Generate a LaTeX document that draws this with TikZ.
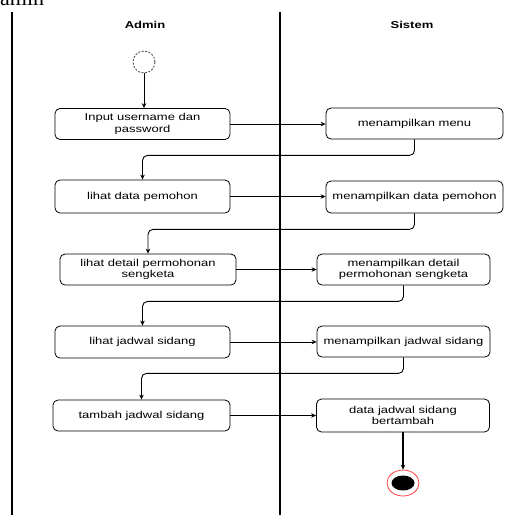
\documentclass[tikz,border=0pt]{standalone}
\usepackage{fontspec}
\setmainfont{Liberation Sans}[FakeStretch=1.3]
\newfontfamily\capserif{Liberation Serif}
\usetikzlibrary{arrows.meta,shapes.geometric,calc}
\begin{document}
\begin{tikzpicture}[x=1pt,y=-1pt,
  act/.style={draw=black,line width=0.8pt,rounded corners=5pt,minimum width=175pt,minimum height=31pt,
    align=center,inner sep=2pt,font=\fontsize{10}{11.5}\selectfont},
  flow/.style={draw=black,line width=0.9pt,rounded corners=5pt,-{Stealth[length=5pt,width=4.5pt]}},
  lane/.style={draw=black},
  hdr/.style={font=\bfseries\fontsize{10}{12}\selectfont}]
\useasboundingbox (0,0) rectangle (532,515);
% cropped caption fragment
\node[anchor=base west,inner sep=0pt,font=\capserif\fontsize{22}{22}\selectfont] (cap) at (0,5) {amin};
% swimlanes
\draw[lane,line width=2pt] (12,12) coordinate (l1) -- (12,515) coordinate (l2);
\draw[lane,line width=1.3pt] (280,12) coordinate (m1) -- (280,515) coordinate (m2);
\node[hdr] (hadmin) at (145,25) {Admin};
\node[hdr] (hsistem) at (412,25) {Sistem};
% start node
\node[circle,draw=black!75,dashed,dash pattern=on 2pt off 1.5pt,line width=0.8pt,minimum size=22pt,inner sep=0pt] (start) at (144,62) {};
% Admin actions
\node[act] (a1) at (142.5,124) {Input username dan\\password};
\node[act,minimum height=33pt] (a2) at (142.5,196.5) {lihat data pemohon};
\node[act,minimum width=176pt] (a3) at (148,269.5) {lihat detail permohonan\\sengketa};
\node[act,minimum height=32pt] (a4) at (142.5,342) {lihat jadwal sidang};
\node[act,minimum width=177pt] (a5) at (141.5,415.5) {tambah jadwal sidang};
% Sistem actions
\node[act,minimum width=177pt] (s1) at (414.5,123.5) {menampilkan menu};
\node[act,minimum width=177pt,minimum height=32pt] (s2) at (414.5,197) {menampilkan data pemohon};
\node[act,minimum width=173pt] (s3) at (403.5,269.5) {menampilkan detail\\permohonan sengketa};
\node[act,minimum width=173pt] (s4) at (403.5,341.5) {menampilkan jadwal sidang};
\node[act,minimum width=173pt,minimum height=33pt] (s5) at (403,415.5) {data jadwal sidang\\bertambah};
% end node
\node[ellipse,draw=red!75,line width=0.8pt,minimum width=32pt,minimum height=26pt,inner sep=0pt] (end) at (403,483) {};
\node[ellipse,fill=black,minimum width=23pt,minimum height=15pt,inner sep=0pt] (endc) at (end.center) {};
% flows
\draw[flow] (start.south) -- (start.south |- a1.north);
\draw[flow] (a1.east) -- (a1.east -| s1.west);
\draw[flow] (s1.south) -- ++(0,16) -| (a2.north);
\draw[flow] (a2.east) -- (a2.east -| s2.west);
\draw[flow] (s2.south) -- ++(0,16) -| (a3.north);
\draw[flow] (a3.east) -- (a3.east -| s3.west);
\draw[flow] (s3.south) -- ++(0,16) -| (a4.north);
\draw[flow] (a4.east) -- (a4.east -| s4.west);
\draw[flow] (s4.south) -- ++(0,16) -| (a5.north);
\draw[flow] (a5.east) -- (a5.east -| s5.west);
\draw[flow,line width=1.2pt] (s5.south) -- (end.north);
\end{tikzpicture}
\end{document}
